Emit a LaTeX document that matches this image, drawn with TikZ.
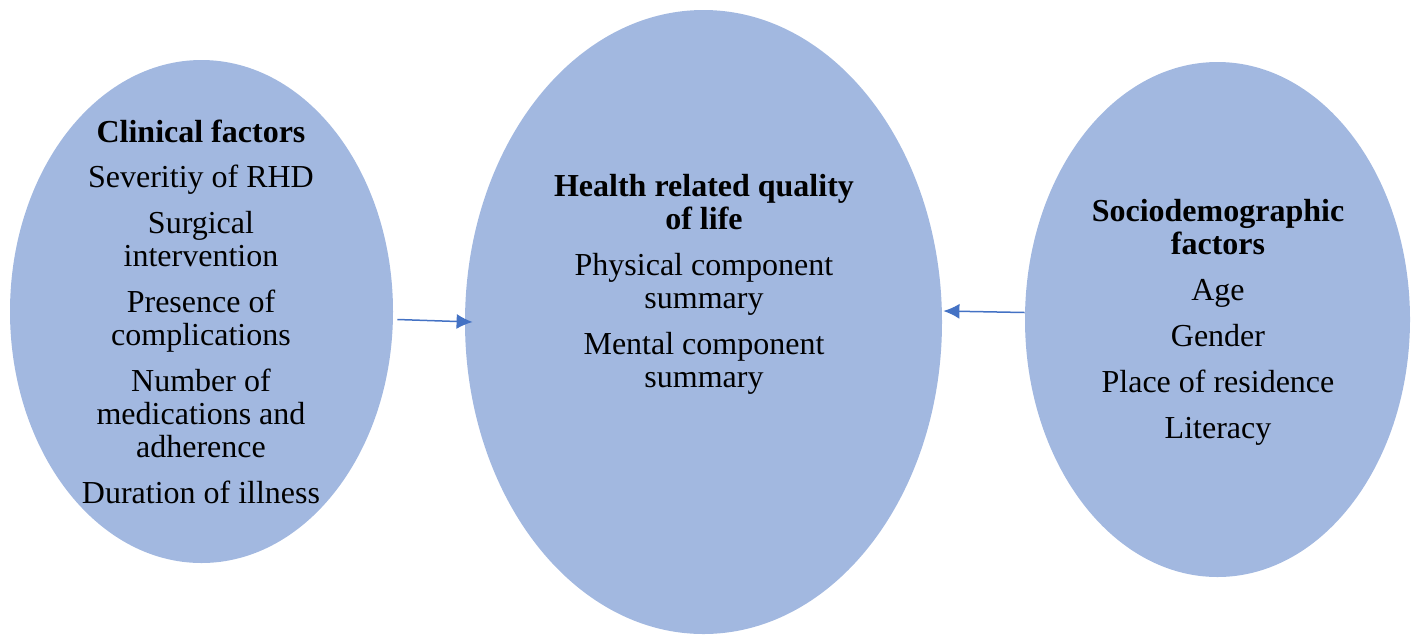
\documentclass[tikz,border=0pt]{standalone}
\usepackage{fontspec}
\setmainfont{Liberation Serif}
\usetikzlibrary{shapes.geometric,arrows.meta}
\definecolor{bubble}{RGB}{162,184,224}
\definecolor{arrowblue}{RGB}{68,114,196}
\tikzset{
  bubble/.style={ellipse, fill=bubble, draw=none, inner sep=0pt},
  label/.style={align=center, anchor=north, inner sep=0pt, font=\fontsize{16}{16.5}\selectfont},
  link/.style={draw=arrowblue, line width=0.75pt, -{Latex[length=8pt,width=7.5pt]}}
}
\begin{document}
\begin{tikzpicture}[x=0.5pt,y=-0.5pt]
\useasboundingbox (0,0) rectangle (1420,634);
\node[bubble, minimum width=191.5pt, minimum height=251.5pt] (clinic) at (201.5,311.5) {};
\node[bubble, minimum width=238.5pt, minimum height=312pt] (hrql) at (703.5,322) {};
\node[bubble, minimum width=192.5pt, minimum height=257.5pt] (socio) at (1217.5,319.5) {};
\node[label] (cliniclbl) at (201,120) {\textbf{Clinical factors}\\[6pt]
  Severitiy of RHD\\[6.5pt]
  Surgical\\ intervention\\[6.5pt]
  Presence of\\ complications\\[6.5pt]
  Number of\\ medications and\\ adherence\\[6.5pt]
  Duration of illness};
\node[label] (hrqllbl) at (704,174) {\textbf{Health related quality}\\ \textbf{of life}\\[6.5pt]
  Physical component\\ summary\\[6.5pt]
  Mental component\\ summary};
\node[label] (sociolbl) at (1218,199) {\textbf{Sociodemographic}\\ \textbf{factors}\\[6.5pt]
  Age\\[6.5pt]
  Gender\\[6.5pt]
  Place of residence\\[6.5pt]
  Literacy};
\draw[link] ([xshift=2pt,yshift=-4pt]clinic.east) -- ([xshift=4pt]hrql.west);
\draw[link] ([yshift=3.5pt]socio.west) -- ([xshift=0.5pt,yshift=5.5pt]hrql.east);
\end{tikzpicture}
\end{document}
